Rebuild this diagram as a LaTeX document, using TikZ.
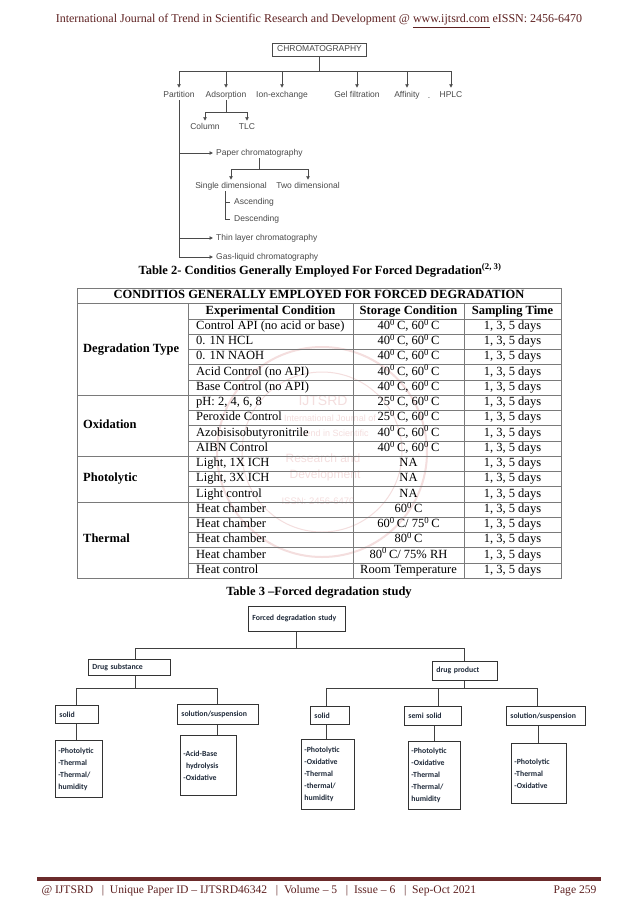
\documentclass[tikz,border=0pt]{standalone}
\usepackage{fontspec}
\setmainfont{Liberation Serif}
\newfontfamily\chromfont{Liberation Sans}
\newfontfamily\calfont{Carlito}
\usetikzlibrary{arrows.meta,positioning}
\definecolor{ijred}{HTML}{5E2121}
\definecolor{rulered}{HTML}{6B2B2B}
\definecolor{scangray}{HTML}{4A4A4A}
\definecolor{wmark}{HTML}{F4DEDE}
\definecolor{tabline}{HTML}{7A7A7A}
\definecolor{navy}{HTML}{1F2A3A}
\newcommand\dgc[1]{#1\textsuperscript{0}\,C}
\tikzset{
  chrom/.style={font=\chromfont\fontsize{8.5}{9}\selectfont, text=scangray, inner sep=1pt, text height=6.2pt, text depth=1.8pt},
  chrombox/.style={chrom, draw=scangray, line width=0.6pt, inner xsep=4.5pt, minimum height=13pt},
  cline/.style={draw=scangray, line width=0.6pt},
  carr/.style={cline, -{Latex[length=3.5pt,width=4pt]}},
  cell/.style={font=\fontsize{12.5}{13}\selectfont, inner sep=0pt, text height=8.8pt, text depth=2.7pt},
  hcell/.style={font=\fontsize{12.5}{13}\selectfont\bfseries, inner sep=0pt, text height=8.8pt, text depth=2.7pt},
  tline/.style={draw=tabline, line width=0.5pt},
  fbox/.style={draw=black!80, line width=0.8pt, anchor=north west, font=\calfont\bfseries\fontsize{7.8}{12}\selectfont, text=navy, align=left, inner xsep=4pt, inner ysep=2pt},
  lbox/.style 2 args={fbox, inner xsep=3pt, text width=#1, minimum height=#2},
  fline/.style={draw=black!75, line width=0.9pt},
  wtext/.style={text=wmark, font=\chromfont\fontsize{#1}{#1}\selectfont},
}
\begin{document}
\begin{tikzpicture}[x=1pt,y=-1pt]
\fill[white] (0,0) rectangle (638,903);
\useasboundingbox (0,0) rectangle (638,903);

% page head
\node[font=\fontsize{12}{13}\selectfont, text=ijred] (head) at (319,21)
  {International Journal of Trend in Scientific Research and Development @ \underline{www.ijtsrd.com} eISSN: 2456-6470};

% chromatography tree
\node[chrombox] (chroma) at (319.5,49.5) {CHROMATOGRAPHY};
\coordinate (cbar) at (0,71);
\node[chrom] (part) at (179,95) {Partition};
\node[chrom] (adsorp) at (226,95) {Adsorption};
\node[chrom] (ionx) at (282,95) {Ion-exchange};
\node[chrom] (gelf) at (357,95) {Gel filtration};
\node[chrom] (affin) at (407,95) {Affinity};
\node[chrom] (dotm) at (429,96) {.};
\node[chrom] (hplc) at (451,95) {HPLC};
\draw[cline] (chroma.south) -- (chroma.south |- cbar);
\draw[cline] (part.north |- cbar) -- (hplc.north |- cbar);
\foreach \n in {part,adsorp,ionx,gelf,affin,hplc}
  \draw[carr] (\n.north |- cbar) -- ([yshift=2pt]\n.north);

\coordinate (abar) at (0,112);
\node[chrom] (column) at (205,127) {Column};
\node[chrom] (tlc) at (247,127) {TLC};
\draw[cline] (adsorp.south) -- (adsorp.south |- abar);
\draw[cline] (column.north |- abar) -- (tlc.north |- abar);
\foreach \n in {column,tlc}
  \draw[carr] (\n.north |- abar) -- ([yshift=1pt]\n.north);

\node[chrom, anchor=west] (paper) at (215,153) {Paper chromatography};
\node[chrom, anchor=west] (thin) at (215,238) {Thin layer chromatography};
\node[chrom, anchor=west] (gasl) at (215,257) {Gas-liquid chromatography};
\draw[cline] (part.south) -- (part.south |- gasl.west);
\foreach \n in {paper,thin,gasl}
  \draw[carr] (part.south |- \n.west) -- ([xshift=-2pt]\n.west);

\coordinate (pbar) at (0,169);
\node[chrom] (single) at (231,186) {Single dimensional};
\node[chrom] (twod) at (308,186) {Two dimensional};
\draw[cline] (paper.south) -- (paper.south |- pbar);
\draw[cline] (single.north |- pbar) -- (twod.north |- pbar);
\foreach \n in {single,twod}
  \draw[carr] (\n.north |- pbar) -- ([yshift=1pt]\n.north);

\node[chrom, anchor=west] (ascend) at (233,202) {Ascending};
\node[chrom, anchor=west] (descend) at (233,219) {Descending};
\coordinate (sdtop) at ([xshift=-6pt]single.south);
\draw[cline, shorten >=3pt] (sdtop) |- (ascend.west);
\draw[cline, shorten >=3pt] (sdtop) |- (descend.west);

% watermark behind the table
\draw[wmark, line width=2pt] (322,452) circle[radius=105pt];
\draw[wmark, line width=1pt] (322,452) circle[radius=80pt];
\node[wtext=14] (wm1) at (323,401) {IJTSRD};
\node[wtext=9] (wm2) at (330,418) {International Journal of};
\node[wtext=9] (wm3) at (333,433) {Trend in Scientific};
\node[wtext=12] (wm4) at (323,458) {Research and};
\node[wtext=12] (wm5) at (325,475) {Development};
\node[wtext=9.5] (wm6) at (318,501) {ISSN: 2456-6470};

% table 2
\node[hcell] (cap2) at (320,271) {Table 2- Conditios Generally Employed For Forced Degradation\textsuperscript{(2, 3)}};
\draw[tline] (77,288) rectangle (561,578);
\draw[tline] (77,303.5) -- (561,303.5);
\foreach \x in {188,353,464}
  \draw[tline] (\x,303.5) -- (\x,578);
\foreach \i in {0,...,16}
  \draw[tline] (188,{318.75+15.25*\i}) -- (561,{318.75+15.25*\i});
\foreach \i in {5,9,12}
  \draw[tline] (77,{318.75+15.25*\i}) -- (188,{318.75+15.25*\i});
\node[hcell] (ttl) at (319,295.75) {CONDITIOS GENERALLY EMPLOYED FOR FORCED DEGRADATION};
\node[hcell] (hexp) at (270.5,311.1) {Experimental Condition};
\node[hcell] (hsto) at (408.5,311.1) {Storage Condition};
\node[hcell] (hsam) at (512.5,311.1) {Sampling Time};
\node[hcell, anchor=west] (gdeg) at (83,349.25) {Degradation Type};
\node[hcell, anchor=west] (goxi) at (83,425.5) {Oxidation};
\node[hcell, anchor=west] (gpho) at (83,478.9) {Photolytic};
\node[hcell, anchor=west] (gthe) at (83,539.9) {Thermal};
\foreach \i/\cond/\store in {
  1/{Control API (no acid or base)}/{\dgc{40}, \dgc{60}},
  2/{0. 1N HCL}/{\dgc{40}, \dgc{60}},
  3/{0. 1N NAOH}/{\dgc{40}, \dgc{60}},
  4/{Acid Control (no API)}/{\dgc{40}, \dgc{60}},
  5/{Base Control (no API)}/{\dgc{40}, \dgc{60}},
  6/{pH: 2, 4, 6, 8}/{\dgc{25}, \dgc{60}},
  7/{Peroxide Control}/{\dgc{25}, \dgc{60}},
  8/{Azobisisobutyronitrile}/{\dgc{40}, \dgc{60}},
  9/{AIBN Control}/{\dgc{40}, \dgc{60}},
  10/{Light, 1X ICH}/{NA},
  11/{Light, 3X ICH}/{NA},
  12/{Light control}/{NA},
  13/{Heat chamber}/{\dgc{60}},
  14/{Heat chamber}/{\dgc{60}/ \dgc{75}},
  15/{Heat chamber}/{\dgc{80}},
  16/{Heat chamber}/{\dgc{80}/ 75\% RH},
  17/{Heat control}/{Room Temperature}} {
  \pgfmathsetmacro\yc{311.125+15.25*\i}
  \node[cell, anchor=west] (c\i) at (196,\yc) {\cond};
  \node[cell] (s\i) at (408.5,\yc) {\store};
  \node[cell] (t\i) at (512.5,\yc) {1, 3, 5 days};
}
\node[hcell] (cap3) at (319,592) {Table 3 –Forced degradation study};

% forced degradation tree
\node[fbox, text width=89pt, minimum height=25pt] (fds) at (248,606) {Forced degradation study};
\node[fbox, text width=74pt, minimum height=16pt] (dsub) at (88,659) {Drug substance};
\node[fbox, text width=57pt, minimum height=19pt] (dprod) at (432,661) {drug product};
\node[fbox, text width=35pt, minimum height=18pt] (dssol) at (55,705) {solid};
\node[fbox, text width=73pt, minimum height=20pt] (dsliq) at (177,704) {solution/suspension};
\node[fbox, text width=31pt, minimum height=18pt] (dpsol) at (310,706) {solid};
\node[fbox, text width=49pt, minimum height=19pt] (dpsemi) at (404,706) {semi solid};
\node[fbox, text width=71pt, minimum height=19pt] (dpliq) at (506,706) {solution/suspension};
\node[lbox={41pt}{57pt}] (dssoll) at (55,740) {-Photolytic\\-Thermal\\-Thermal/\\humidity};
\node[lbox={50pt}{60pt}] (dsliql) at (180,735) {-Acid-Base\\\ hydrolysis\\-Oxidative};
\node[lbox={47pt}{70pt}] (dpsoll) at (301,739) {-Photolytic\\-Oxidative\\-Thermal\\-thermal/\\humidity};
\node[lbox={46pt}{68pt}] (dpsemil) at (408,741) {-Photolytic\\-Oxidative\\-Thermal\\-Thermal/\\humidity};
\node[lbox={49pt}{60pt}] (dpliql) at (511,743) {-Photolytic\\-Thermal\\-Oxidative};
\draw[fline] (fds.south) -- ++(0,17) -| ([xshift=6pt]dsub.north);
\draw[fline] (fds.south) -- ++(0,17) -| (dprod.north);
\draw[fline] ([xshift=6pt]dsub.south) -- ++(0,13) -| (dssol.north);
\draw[fline] ([xshift=6pt]dsub.south) -- ++(0,13) -| (dsliq.north);
\draw[fline] (dprod.south) -- ++(0,8) -| ([xshift=-3pt]dpsol.north);
\draw[fline] (dprod.south) -- ++(0,8) -| ([xshift=6pt]dpsemi.north);
\draw[fline] (dprod.south) -- ++(0,8) -| ([xshift=-8pt]dpliq.north);
\draw[fline] (dssol.south) -- (dssol.south |- dssoll.north);
\draw[fline] (dsliq.south) -- (dsliq.south |- dsliql.north);
\draw[fline] ([xshift=-3pt]dpsol.south) -- ([xshift=-3pt]dpsol.south |- dpsoll.north);
\draw[fline] (dpsemil.north |- dpsemi.south) -- (dpsemil.north);
\draw[fline] (dpliql.north |- dpliq.south) -- (dpliql.north);

% page foot
\draw[rulered, line width=3.5pt] (37,879) -- (601,879);
\node[anchor=west, font=\fontsize{11.6}{13}\selectfont, text=ijred] (footl) at (38,891)
  {@ IJTSRD \enspace|\enspace Unique Paper ID – IJTSRD46342 \enspace|\enspace Volume – 5 \enspace|\enspace Issue – 6 \enspace|\enspace Sep-Oct 2021};
\node[anchor=east, font=\fontsize{11.6}{13}\selectfont, text=ijred] (footr) at (600,891) {Page 259};
\end{tikzpicture}
\end{document}
